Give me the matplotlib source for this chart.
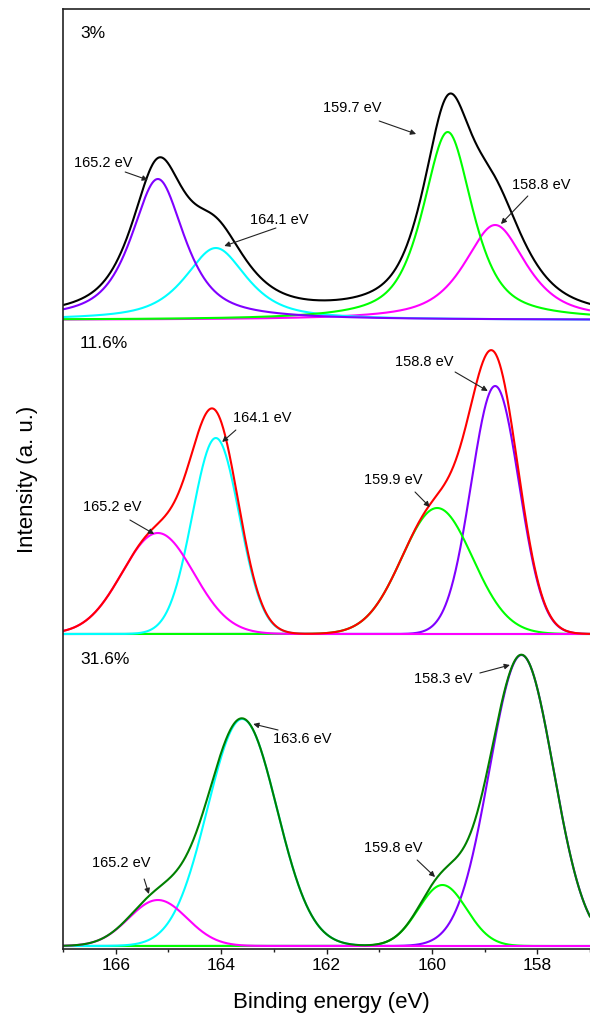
import numpy as np
import matplotlib
matplotlib.use("Agg")
import matplotlib.pyplot as plt

plt.rcParams["font.family"] = ["Liberation Sans", "DejaVu Sans"]

# Binding-energy grid (eV)
energy = np.linspace(167.0, 157.0, 1201)

# Sample labels and vertical offsets of the stacked spectra
sample_labels = ["3%", "11.6%", "31.6%"]
sample_offsets = [629, 315, 3]

# 3 % sample: pseudo-Voigt components (draw order)
s1_centers = [158.8, 164.1, 159.7, 165.2]
s1_heights = [95, 72, 188, 141]
s1_fwhm = [1.4, 1.4, 1.12, 1.2]
s1_lorentz = [0.75, 0.75, 0.7, 0.75]
s1_colors = ["#FF00FF", "#00FFFF", "#00FF00", "#8000FF"]
s1_envelope = "#000000"

# 11.6 % sample: Gaussian components (draw order)
s2_centers = [158.8, 159.9, 164.1, 165.2]
s2_heights = [248, 126, 196, 101]
s2_fwhm = [1.07, 1.58, 1.05, 1.6]
s2_lorentz = [0.0, 0.0, 0.0, 0.0]
s2_colors = ["#8000FF", "#00FF00", "#00FFFF", "#FF00FF"]
s2_envelope = "#FF0000"

# 31.6 % sample: Gaussian components (draw order)
s3_centers = [158.3, 159.8, 163.6, 165.2]
s3_heights = [291, 61, 227, 46]
s3_fwhm = [1.43, 1.08, 1.55, 1.3]
s3_lorentz = [0.0, 0.0, 0.0, 0.0]
s3_colors = ["#8000FF", "#00FF00", "#00FFFF", "#FF00FF"]
s3_envelope = "#008000"

# Peak annotations: label, text position, arrow tail, arrow head
s1_notes = [
    ("165.2 eV", (166.24, 786), (165.82, 777), (165.39, 769)),
    ("164.1 eV", (162.90, 729), (162.96, 721), (163.94, 703)),
    ("159.7 eV", (161.52, 841), (161.00, 828), (160.30, 815)),
    ("158.8 eV", (157.93, 764), (158.18, 753), (158.69, 725)),
]
s2_notes = [
    ("165.2 eV", (166.07, 442), (165.73, 429), (165.27, 415)),
    ("164.1 eV", (163.22, 531), (163.72, 519), (163.98, 507)),
    ("159.9 eV", (160.74, 469), (160.32, 457), (160.04, 442)),
    ("158.8 eV", (160.15, 587), (159.56, 577), (158.94, 558)),
]
s3_notes = [
    ("165.2 eV", (165.90, 86), (165.46, 70), (165.37, 55)),
    ("163.6 eV", (162.46, 210), (162.92, 219), (163.39, 225)),
    ("159.8 eV", (160.74, 101), (160.28, 89), (159.94, 72)),
    ("158.3 eV", (159.79, 270), (159.09, 276), (158.52, 284)),
]
label_y = [916, 606, 290]


def pseudo_voigt(x, center, height, fwhm, eta):
    half = fwhm / 2.0
    lor = 1.0 / (1.0 + ((x - center) / half) ** 2)
    gau = np.exp(-4.0 * np.log(2.0) * ((x - center) / fwhm) ** 2)
    return height * (eta * lor + (1.0 - eta) * gau)


fig = plt.figure(figsize=(5.9, 10.15), dpi=100)
ax = fig.add_axes([63 / 590, 1 - 949 / 1015, 527 / 590, 940 / 1015])

samples = [
    (s1_centers, s1_heights, s1_fwhm, s1_lorentz, s1_colors, s1_envelope, s1_notes),
    (s2_centers, s2_heights, s2_fwhm, s2_lorentz, s2_colors, s2_envelope, s2_notes),
    (s3_centers, s3_heights, s3_fwhm, s3_lorentz, s3_colors, s3_envelope, s3_notes),
]

lw = 1.5
for (centers, heights, fwhm, eta, colors, env_color, notes), base, name, ly in zip(
        samples, sample_offsets, sample_labels, label_y):
    total = np.zeros_like(energy)
    for c, h, w, e, col in zip(centers, heights, fwhm, eta, colors):
        comp = pseudo_voigt(energy, c, h, w, e)
        total += comp
        ax.plot(energy, base + comp, color=col, lw=lw, solid_capstyle="butt")
    ax.plot(energy, base + total, color=env_color, lw=lw)
    ax.text(166.68, ly, name, fontsize=12.5, ha="left", va="center")
    for text, tpos, tail, head in notes:
        ax.text(tpos[0], tpos[1], text, fontsize=10.5, ha="center", va="center")
        ax.annotate("", xy=head, xytext=tail,
                    arrowprops=dict(arrowstyle="-|>", color="#222222", lw=0.8,
                                    mutation_scale=8, shrinkA=0, shrinkB=0))

ax.set_xlim(167, 157)
ax.set_ylim(0, 940)
ax.set_xticks([166, 164, 162, 160, 158])
ax.set_xticks([167, 165, 163, 161, 159, 157], minor=True)
ax.set_yticks([])
ax.tick_params(axis="x", which="major", direction="out", length=3.5, width=1.0,
               labelsize=12.5, pad=3, color="#222222")
ax.tick_params(axis="x", which="minor", direction="out", length=2.5, width=1.0,
               color="#222222")
for side in ["left", "top", "bottom"]:
    ax.spines[side].set_linewidth(1.2)
    ax.spines[side].set_color("#222222")
ax.spines["right"].set_visible(False)

ax.set_xlabel("Binding energy (eV)", fontsize=16)
ax.set_ylabel("Intensity (a. u.)", fontsize=16)
ax.xaxis.set_label_coords(0.51, -0.046)
ax.yaxis.set_label_coords(-0.048, 0.5)

fig.savefig("out.png", dpi=100)
